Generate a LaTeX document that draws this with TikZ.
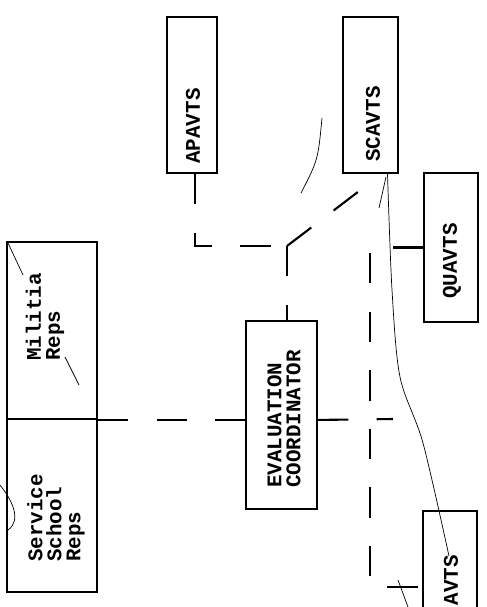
\documentclass[tikz,border=0pt]{standalone}
\usepackage{fontspec}
\setmonofont{Liberation Mono}
\usetikzlibrary{fit, calc}

\begin{document}
\begin{tikzpicture}[x=0.03cm, y=-0.03cm,
    unit box/.style={draw, line width=1.6pt, inner sep=0pt},
    unit label/.style={rotate=90, align=left, inner sep=0pt,
        font=\ttfamily\bfseries\fontsize{17.8}{16.2}\selectfont},
    link/.style={line width=1.8pt, dash pattern=on 26pt off 24pt},
    pen/.style={line width=0.6pt}]
    \useasboundingbox (0,0) rectangle (487,607);
    \clip (0,0) rectangle (487,607);
    \node[unit box, fit={(7,242) (97,419)}] (militia) {};
    \node[unit box, fit={(7,419) (97,592)}] (service) {};
    \node[unit box, fit={(246,321) (317,509)}] (evalcoord) {};
    \node[unit box, fit={(167,17) (217,173)}] (apavts) {};
    \node[unit box, fit={(343,17) (398,173)}] (scavts) {};
    \node[unit box, fit={(424,173) (478,322)}] (quavts) {};
    \node[unit box, fit={(423,511) (477,650)}] (lowavts) {};
    \node[unit label] (militia text) at (45,317) {Militia\\Reps};
    \node[unit label] (service text) at (56,518) {Service\\School\\Reps};
    \node[unit label] (evalcoord text) at (284,419) {EVALUATION\\COORDINATOR};
    \node[unit label] (apavts text) at (193,126) {APAVTS};
    \node[unit label] (scavts text) at (373,124) {SCAVTS};
    \node[unit label] (quavts text) at (452,261) {QUAVTS};
    \node[unit label] (lowavts text) at (451,580) {AVTS};
    \coordinate (fork) at (287,246);
    \coordinate (bend) at (371,182);
    \coordinate (rail end) at (370,587);
    \coordinate (stub) at (393,419);
    \draw[link] (militia.south east) -- (militia.south east -| evalcoord.west);
    \draw[link] (militia.south east -| evalcoord.east) -- (stub);
    \draw[link] ($(apavts.south)+(3,0)$) |- (fork);
    \draw[link] (fork) -- (fork |- evalcoord.north);
    \draw[link] (fork) -- (bend) -- (bend |- scavts.south);
    \draw[link] (quavts.west) -| (rail end) -- (rail end -| lowavts.west);
    \draw[pen] plot[smooth] coordinates {($(scavts.south)+(17,0)$) (392,290) (400,377) (423,443) (449,556)};
    \draw[pen] (386,177) -- (379,208);
    \draw[pen] (322,118) .. controls (318,160) .. (301,193);
    \draw[pen] (398,580) -- (408,607);
    \draw[pen] (8,243) -- (23,275);
    \draw[pen] (65,357) -- (79,385);
    \draw[pen] (0,485) .. controls (12,500) and (22,520) .. (8,530);
\end{tikzpicture}
\end{document}
